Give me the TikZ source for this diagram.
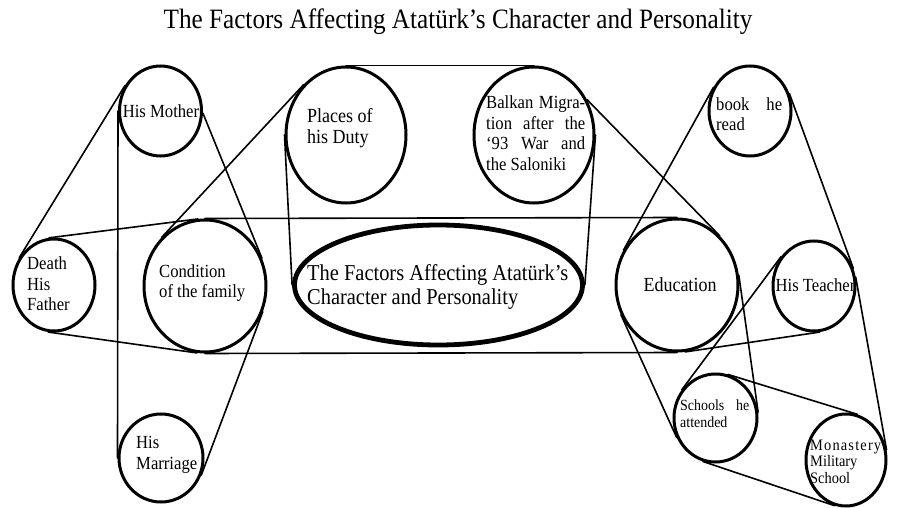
\documentclass[tikz,border=0pt]{standalone}
\usepackage{fontspec}
\setmainfont{Liberation Serif}[FakeStretch=0.9]
\usetikzlibrary{shapes.geometric}
\pgfdeclarelayer{background}
\pgfsetlayers{background,main}
\begin{document}
\begin{tikzpicture}[x=1pt,y=-1pt,
  bubble/.style={draw, ellipse, fill=white, line width=3pt, inner sep=0pt},
  hub/.style={draw, ellipse, fill=white, line width=4.8pt, inner sep=0pt},
  link/.style={line width=1.6pt, line cap=round},
  txt/.style={inner sep=0pt, align=left, font=\fontsize{18.5}{20.5}\selectfont}]
\useasboundingbox (0,0) rectangle (898,508);

% ---- circles ----
\node[bubble, minimum width=82pt, minimum height=90pt] (M) at (160.5,111) {};
\node[bubble, minimum width=82pt, minimum height=92pt] (F) at (54,285) {};
\node[bubble, minimum width=122pt, minimum height=132pt] (C) at (205,286) {};
\node[bubble, minimum width=84pt, minimum height=88pt] (R) at (161,458) {};
\node[bubble, minimum width=120pt, minimum height=136pt] (P) at (346,135) {};
\node[bubble, minimum width=120pt, minimum height=136pt] (B) at (534,135) {};
\node[hub, minimum width=288pt, minimum height=120pt] (X) at (438.5,285) {};
\node[bubble, minimum width=122pt, minimum height=132pt] (E) at (677,285) {};
\node[bubble, minimum width=82pt, minimum height=90pt] (K) at (750,111) {};
\node[bubble, minimum width=82pt, minimum height=90pt] (T) at (814,286) {};
\node[bubble, minimum width=83pt, minimum height=88pt] (S) at (715.5,418) {};
\node[bubble, minimum width=80pt, minimum height=92pt] (N) at (846,460) {};

% ---- connectors ----
\begin{pgfonlayer}{background}
\fill[white] (0,0) rectangle (898,508);
\draw[link] (M.144) -- (F.142);
\draw[link] (M.180) -- (R.180);
\draw[link] (M.-3) -- (C.26);
\draw[link] (C.-24) -- (R.-23);
\draw[link] (F.96) -- (C.96);
\draw[link] (C.90) -- (E.90);
\draw[link] (F.-97) -- (C.-97);
\draw[link] (C.-90) -- (E.-90);
\draw[link] (E.-83) -- (T.-83);
\draw[link] (P.130) -- (C.132);
\draw[link] (P.90) -- (B.90);
\draw[link] (P.180) -- (X.180);
\draw[link] (B.0) -- (X.0);
\draw[link] (B.34) -- (E.49);
\draw[link] (K.147) -- (E.147);
\draw[link] (K.24) -- (T.24);
\draw[link] (T.12) -- (N.14);
\draw[link] (S.140) -- (T.138);
\draw[link] (E.9) -- (S.8);
\draw[link] (E.208) -- (S.207);
\draw[link] (S.74) -- (N.76);
\draw[link] (S.-106) -- (N.-104);
\end{pgfonlayer}

% ---- texts ----
\node[inner sep=0pt, anchor=base, font=\fontsize{28}{30}\selectfont] (title) at (458,29)
  {The Factors Affecting Atatürk’s Character and Personality};
\node[txt] (tM) at (161,111) {His Mother};
\node[txt, anchor=west] (tF) at (27,284) {Death\\His\\Father};
\node[txt, anchor=west] (tC) at (159,283) {Condition\\of the family};
\node[txt, anchor=west] (tR) at (136,455) {His\\Marriage};
\node[txt, anchor=west, font=\fontsize{20}{21}\selectfont] (tP) at (307,128.5) {Places of\\his Duty};
\node[txt, anchor=west] (tB) at (486,133)
  {\makebox[99pt][s]{Balkan Migra-}\\\makebox[99pt][s]{tion after the}\\\makebox[99pt][s]{‘93 War and}\\the Saloniki};
\node[txt, anchor=west, font=\fontsize{22.7}{24}\selectfont] (tX) at (307,287)
  {The Factors Affecting Atatürk’s\\Character and Personality};
\node[txt, font=\fontsize{20}{21}\selectfont] (tE) at (680,285) {Education};
\node[txt, anchor=west] (tK) at (716,114) {\makebox[66pt][s]{book he}\\read};
\node[txt] (tT) at (815.5,285) {His Teacher};
\node[txt, anchor=west, font=\fontsize{15.5}{17}\selectfont] (tS) at (680,413.5)
  {\makebox[69pt][s]{Schools he}\\attended};
\node[txt, anchor=west, font=\fontsize{16}{16.5}\selectfont] (tN) at (810,461.5)
  {\makebox[71pt][s]{M\hfill o\hfill n\hfill a\hfill s\hfill t\hfill e\hfill r\hfill y}\\Military\\School};
\end{tikzpicture}
\end{document}
